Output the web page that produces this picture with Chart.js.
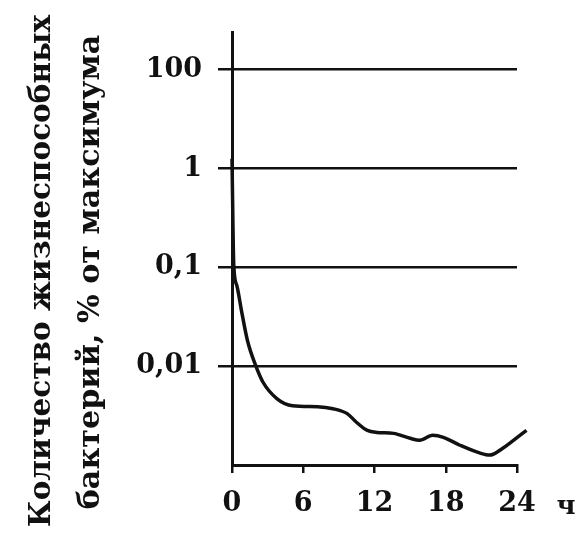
<!DOCTYPE html>
<html>
<head>
<meta charset="utf-8">
<script src="https://cdn.jsdelivr.net/npm/chart.js@4.4.1/dist/chart.umd.min.js"></script>
<style>
  html, body { margin: 0; padding: 0; background: #fff; }
</style>
</head>
<body>
<canvas id="chart" width="587" height="538"></canvas>
<script>
// Время, ч
var hours = [0, 0.15, 0.4, 0.8, 1.3, 1.95, 2.6, 3.8, 5.1, 7.2, 8.5, 9.7, 10.5, 11.4, 12.2, 13.6, 15.0, 15.8, 16.9, 17.8, 19.2, 20.9, 21.7, 22.8, 23.7, 24.8];
// Положение кривой на (неравномерной) шкале: 1 = 0,01; 2 = 0,1; 3 = 1; 4 = 100
var levels = [3.1, 2.02, 1.82, 1.56, 1.26, 1.02, 0.84, 0.67, 0.6, 0.59, 0.57, 0.52, 0.43, 0.35, 0.33, 0.32, 0.27, 0.25, 0.3, 0.28, 0.2, 0.12, 0.1, 0.17, 0.25, 0.35];

var yTickPos = [1, 2, 3, 4];
var yTickLabels = ['0,01', '0,1', '1', '100'];
var xTicks = [0, 6, 12, 18, 24];
var yTitle = ['Количество жизнеспособных', 'бактерий, % от максимума'];
var xUnit = 'ч';

var points = hours.map(function(h, i) { return { x: h, y: levels[i] }; });

var serif = "'DejaVu Serif', 'Liberation Serif', serif";

// подписи оси Y и единица оси X
var textPlugin = {
  id: 'axisText',
  afterDraw: function(chart) {
    var ctx = chart.ctx;
    ctx.save();
    ctx.fillStyle = '#111';
    ctx.textAlign = 'center';
    ctx.textBaseline = 'alphabetic';
    var lines = [
      { text: yTitle[0], len: 513, x: 50, y: 271 },
      { text: yTitle[1], len: 474, x: 99, y: 272 }
    ];
    lines.forEach(function(l) {
      ctx.font = 'bold 28px ' + serif;
      var w = ctx.measureText(l.text).width;
      var size = 28 * l.len / w;
      ctx.font = 'bold ' + size.toFixed(1) + 'px ' + serif;
      ctx.save();
      ctx.translate(l.x, l.y);
      ctx.rotate(-Math.PI / 2);
      ctx.fillText(l.text, 0, 0);
      ctx.restore();
    });
    ctx.font = 'bold 26px ' + serif;
    ctx.fillText(xUnit, 566, 514);
    ctx.restore();
  }
};

new Chart(document.getElementById('chart'), {
  type: 'scatter',
  data: {
    datasets: [{
      data: points,
      showLine: true,
      borderColor: '#111',
      borderWidth: 3.5,
      pointRadius: 0,
      cubicInterpolationMode: 'monotone',
      clip: false
    }]
  },
  options: {
    responsive: false,
    animation: false,
    layout: { padding: { top: 27, right: 70, left: 0, bottom: 0 } },
    plugins: {
      legend: { display: false },
      tooltip: { enabled: false }
    },
    scales: {
      x: {
        type: 'linear',
        min: 0,
        max: 24,
        afterBuildTicks: function(s) { s.ticks = xTicks.map(function(v) { return { value: v }; }); },
        afterFit: function(s) { s.height = 73; },
        grid: { drawOnChartArea: false, color: '#111', lineWidth: 2.5, tickLength: 8 },
        border: { color: '#111', width: 3 },
        ticks: { color: '#111', padding: 15, font: { family: serif, size: 27, weight: 'bold' } }
      },
      y: {
        type: 'linear',
        min: 0,
        max: 4.38,
        afterBuildTicks: function(s) { s.ticks = yTickPos.map(function(v) { return { value: v }; }); },
        afterFit: function(s) { s.width = 232; },
        grid: { color: '#111', lineWidth: 2.5, tickLength: 14 },
        border: { color: '#111', width: 3 },
        ticks: {
          color: '#111',
          padding: 16,
          font: { family: serif, size: 27, weight: 'bold' },
          callback: function(v) { return yTickLabels[yTickPos.indexOf(v)]; }
        }
      }
    }
  },
  plugins: [textPlugin]
});
</script>
</body>
</html>
